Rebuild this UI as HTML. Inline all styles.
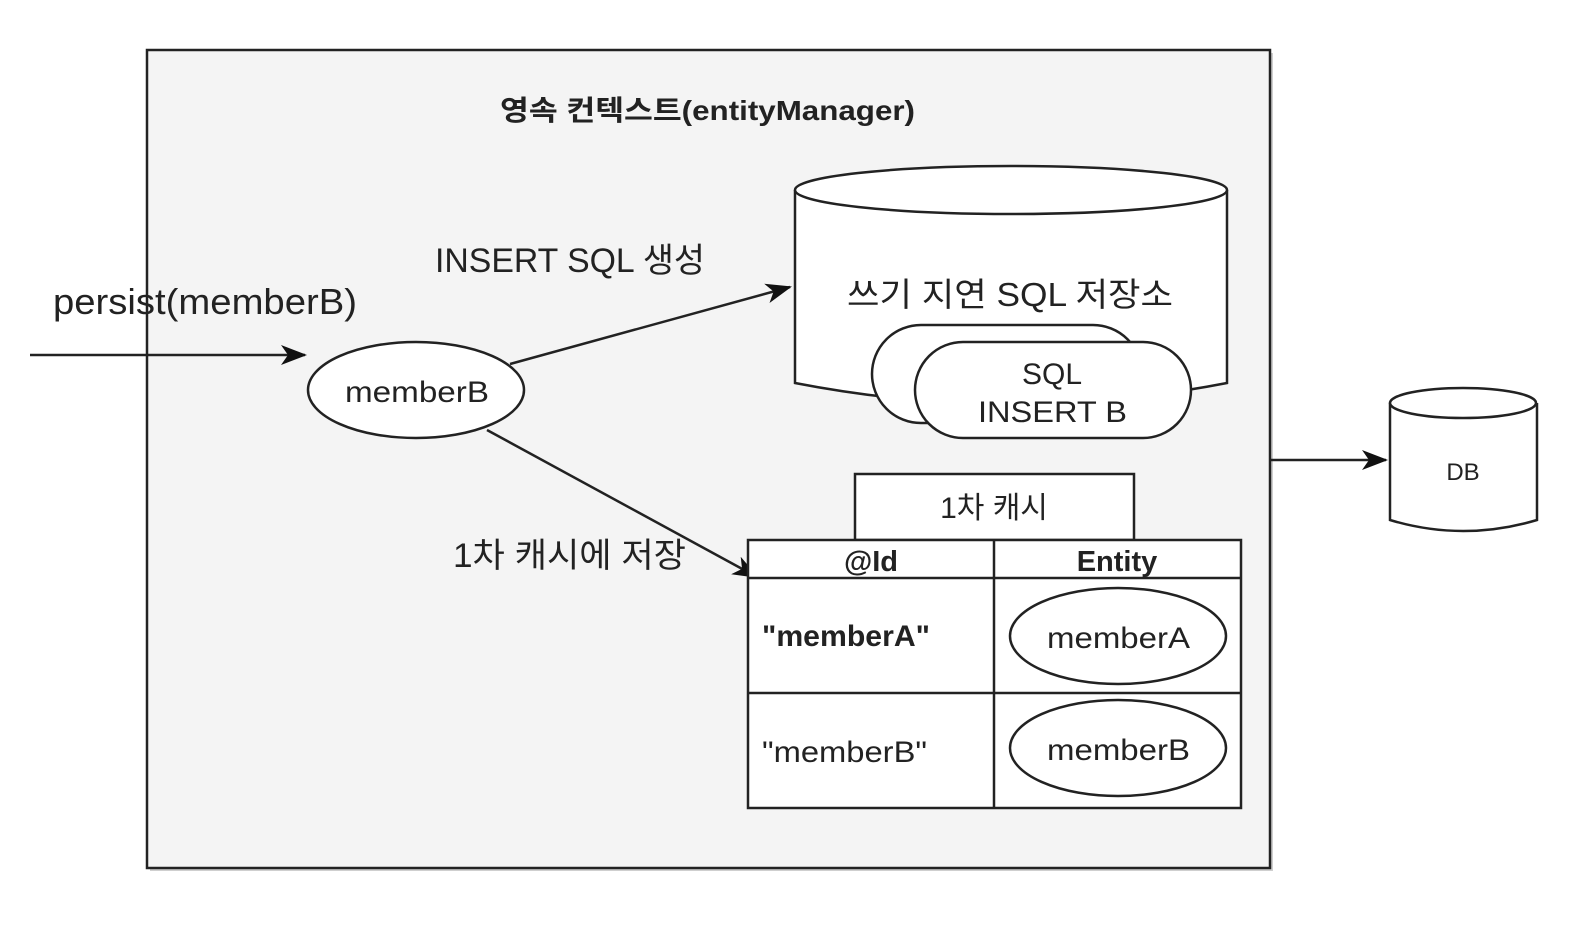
<!DOCTYPE html>
<html><head><meta charset="utf-8"><style>body{margin:0;background:#fff}svg{display:block}text{font-family:"Liberation Sans","Noto Sans CJK KR",sans-serif;fill:#222}</style></head>
<body>
<svg width="1570" height="928" viewBox="0 0 1570 928" xmlns="http://www.w3.org/2000/svg">
<defs><marker id="a" markerWidth="28" markerHeight="20" refX="24" refY="10" orient="auto" markerUnits="userSpaceOnUse"><path d="M0,0 L26,10 L0,20 L7,10 Z" fill="#111"/></marker></defs>
<rect x="150" y="53" width="1123" height="818" fill="#888" opacity="0.4"/>
<rect x="147" y="50" width="1123" height="818" fill="#f4f4f4" stroke="#222" stroke-width="2.5"/>
<text x="500" y="120" font-size="28" font-weight="bold" textLength="415" lengthAdjust="spacingAndGlyphs">영속 컨텍스트(entityManager)</text>
<path d="M795,190 L795,383 Q1011,425 1227,383 L1227,190" fill="#fff" stroke="#222" stroke-width="2.5"/>
<ellipse cx="1011" cy="190" rx="216" ry="24" fill="#fff" stroke="#222" stroke-width="2.5"/>
<text x="847" y="306" font-size="33" textLength="326" lengthAdjust="spacingAndGlyphs">쓰기 지연 SQL 저장소</text>
<rect x="872" y="325" width="270" height="98" rx="49" fill="#fff" stroke="#222" stroke-width="2.5"/>
<rect x="915" y="342" width="276" height="96" rx="48" fill="#fff" stroke="#222" stroke-width="2.5"/>
<text x="1052" y="384" font-size="30" text-anchor="middle">SQL</text>
<text x="978" y="422" font-size="30" textLength="149" lengthAdjust="spacingAndGlyphs">INSERT B</text>
<path d="M1390,403 L1390,520 Q1463,542 1537,520 L1537,403" fill="#fff" stroke="#222" stroke-width="2.5"/>
<ellipse cx="1463" cy="403" rx="73" ry="15" fill="#fff" stroke="#222" stroke-width="2.5"/>
<text x="1463" y="480" font-size="24" text-anchor="middle">DB</text>
<line x1="1270" y1="460" x2="1386" y2="460" stroke="#222" stroke-width="2.5" marker-end="url(#a)"/>
<text x="53" y="314" font-size="36" textLength="304" lengthAdjust="spacingAndGlyphs">persist(memberB)</text>
<line x1="30" y1="355" x2="305" y2="355" stroke="#222" stroke-width="2.5" marker-end="url(#a)"/>
<ellipse cx="416" cy="390" rx="108" ry="48" fill="#fff" stroke="#222" stroke-width="2.5"/>
<text x="345" y="402" font-size="30" textLength="144" lengthAdjust="spacingAndGlyphs">memberB</text>
<line x1="510" y1="364" x2="790" y2="287" stroke="#222" stroke-width="2.5" marker-end="url(#a)"/>
<text x="435" y="272" font-size="34" textLength="270" lengthAdjust="spacingAndGlyphs">INSERT SQL 생성</text>
<line x1="487" y1="430" x2="757" y2="577" stroke="#222" stroke-width="2.5" marker-end="url(#a)"/>
<text x="453" y="567" font-size="34" textLength="233" lengthAdjust="spacingAndGlyphs">1차 캐시에 저장</text>
<rect x="855" y="474" width="279" height="66" fill="#fff" stroke="#222" stroke-width="2.5"/>
<text x="994" y="518" font-size="30" text-anchor="middle">1차 캐시</text>
<rect x="748" y="540" width="493" height="268" fill="#fff" stroke="#222" stroke-width="2.5"/>
<line x1="748" y1="578" x2="1241" y2="578" stroke="#222" stroke-width="2.5"/>
<line x1="748" y1="693" x2="1241" y2="693" stroke="#222" stroke-width="2.5"/>
<line x1="994" y1="540" x2="994" y2="808" stroke="#222" stroke-width="2.5"/>
<text x="871" y="571" font-size="29" font-weight="bold" text-anchor="middle">@Id</text>
<text x="1117" y="571" font-size="29" font-weight="bold" text-anchor="middle">Entity</text>
<text x="762" y="646" font-size="30" font-weight="bold" textLength="168" lengthAdjust="spacingAndGlyphs">"memberA"</text>
<text x="762" y="762" font-size="30" textLength="165" lengthAdjust="spacingAndGlyphs">"memberB"</text>
<ellipse cx="1118" cy="636" rx="108" ry="48" fill="#fff" stroke="#222" stroke-width="2.5"/>
<text x="1047" y="648" font-size="30" textLength="143" lengthAdjust="spacingAndGlyphs">memberA</text>
<ellipse cx="1118" cy="748" rx="108" ry="48" fill="#fff" stroke="#222" stroke-width="2.5"/>
<text x="1047" y="760" font-size="30" textLength="143" lengthAdjust="spacingAndGlyphs">memberB</text>
</svg>
</body></html>
